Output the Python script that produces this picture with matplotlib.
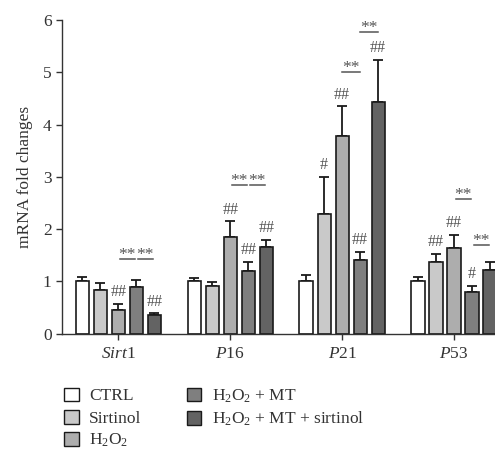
import numpy as np
import matplotlib
matplotlib.use('Agg')
from matplotlib import pyplot as plt
from matplotlib.patches import Patch

plt.rcParams['font.family'] = ['Liberation Serif', 'DejaVu Serif']
plt.rcParams['mathtext.fontset'] = 'custom'
plt.rcParams['mathtext.rm'] = 'Liberation Serif'
plt.rcParams['mathtext.it'] = 'Liberation Serif:italic'

genes = ['Sirt1', 'P16', 'P21', 'P53']
gene_labels = [r'$\it{Sirt}$1', r'$\it{P}$16', r'$\it{P}$21', r'$\it{P}$53']
groups = ['CTRL', 'Sirtinol', r'H$_2$O$_2$', r'H$_2$O$_2$ + MT', r'H$_2$O$_2$ + MT + sirtinol']
colors = ['#ffffff', '#c9c9c9', '#adadad', '#7f7f7f', '#636363']

# mean values per group and gene
ctrl = [1.00, 1.00, 1.01, 1.00]
sirtinol = [0.83, 0.92, 2.28, 1.38]
h2o2 = [0.45, 1.85, 3.79, 1.63]
h2o2_mt = [0.89, 1.19, 1.41, 0.80]
h2o2_mt_sirt = [0.35, 1.66, 4.43, 1.21]

ctrl_err = [0.08, 0.06, 0.11, 0.09]
sirtinol_err = [0.13, 0.07, 0.72, 0.15]
h2o2_err = [0.12, 0.30, 0.56, 0.26]
h2o2_mt_err = [0.14, 0.19, 0.15, 0.12]
h2o2_mt_sirt_err = [0.04, 0.13, 0.81, 0.16]

# '#' marks above bars: (gene index, group index, text)
hash_marks = [(0, 2, '##'), (0, 4, '##'),
              (1, 2, '##'), (1, 3, '##'), (1, 4, '##'),
              (2, 1, '#'), (2, 2, '##'), (2, 3, '##'), (2, 4, '##'),
              (3, 1, '##'), (3, 2, '##'), (3, 3, '#')]
# '**' comparisons: (gene index, group a, group b, height)
star_marks = [(0, 2, 3, 1.42), (0, 3, 4, 1.42),
              (1, 2, 3, 2.84), (1, 3, 4, 2.84),
              (2, 2, 3, 5.00), (2, 3, 4, 5.78),
              (3, 2, 3, 2.58), (3, 3, 4, 1.70)]

means = [ctrl, sirtinol, h2o2, h2o2_mt, h2o2_mt_sirt]
errs = [ctrl_err, sirtinol_err, h2o2_err, h2o2_mt_err, h2o2_mt_sirt_err]

fig = plt.figure(figsize=(4.95, 4.53), dpi=100)
ax = fig.add_axes([0.1253, 0.2634, 0.905, 0.6924])

x = np.arange(len(genes))
pitch = 0.161
width = 0.118
text_col = '#333333'
mark_col = '#555555'
fs = 12.5

for i in range(len(groups)):
    xs = x + (i - 2) * pitch
    ax.bar(xs, means[i], width, color=colors[i], edgecolor='#1a1a1a',
           linewidth=1.2, zorder=2)
    ax.errorbar(xs, means[i], yerr=[np.zeros(len(genes)), errs[i]], fmt='none',
                ecolor='#1a1a1a', elinewidth=1.3, capsize=3.3, capthick=1.3, zorder=1)

for g, i, t in hash_marks:
    xp = x[g] + (i - 2) * pitch
    top = means[i][g] + errs[i][g]
    ax.text(xp, top + 0.07, t, ha='center', va='bottom', fontsize=11.5, color=mark_col)

for g, a, b, h in star_marks:
    xa = x[g] + (a - 2) * pitch
    xb = x[g] + (b - 2) * pitch
    mid = (xa + xb) / 2
    half = 0.067 if g != 2 else 0.08
    ax.plot([mid - half, mid + half], [h, h], color=mark_col, lw=1.1, clip_on=False)
    ax.text(mid, h + 0.0, '**', ha='center', va='baseline', fontsize=12.5, color=mark_col)

ax.set_xlim(-0.503, 3.5)
ax.set_ylim(0, 6)
ax.set_yticks(range(7))
ax.set_xticks(x)
ax.set_xticklabels(gene_labels, fontsize=fs, color=text_col)
ax.tick_params(axis='y', labelsize=fs, labelcolor=text_col, length=4, width=1, color='#333333')
ax.tick_params(axis='x', length=4, width=1, color='#333333', pad=5)
ax.set_ylabel('mRNA fold changes', fontsize=fs, color=text_col, labelpad=7)
for s in ['top', 'right']:
    ax.spines[s].set_visible(False)
for s in ['left', 'bottom']:
    ax.spines[s].set_color('#333333')
    ax.spines[s].set_linewidth(1.0)

handles = [Patch(facecolor=c, edgecolor='#1a1a1a', linewidth=1.0) for c in colors]
fig.legend(handles, groups, loc='upper left', bbox_to_anchor=(0.115, 0.16),
           ncol=2, frameon=False, fontsize=fs, handlelength=0.85, handleheight=0.85,
           handletextpad=0.6, columnspacing=2.6, labelspacing=0.3, borderaxespad=0,
           labelcolor=text_col)

fig.savefig('out.png', dpi=100)
plt.close(fig)
